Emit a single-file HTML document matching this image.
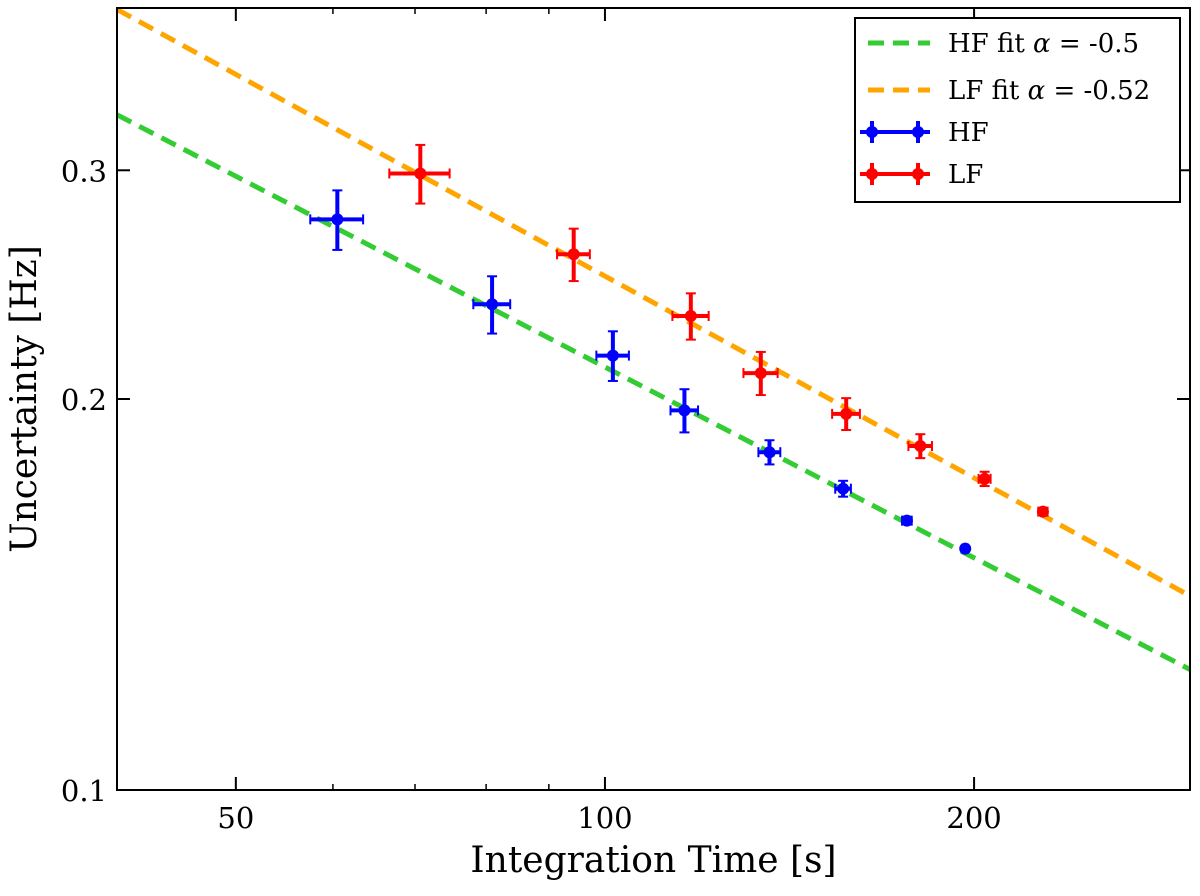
<!DOCTYPE html>
<html><head><meta charset="utf-8"><style>
body{margin:0;background:#fff;}
svg text{font-family:"DejaVu Serif","Liberation Serif",serif;fill:#000;}
</style></head><body>
<svg id="chart" width="1200" height="891" xmlns="http://www.w3.org/2000/svg"></svg>
<script>
const hfTime=[60.5,80.9,101.5,116.1,136.2,156.4,176.3,196.7];
const hfUnc=[0.275,0.2366,0.216,0.196,0.182,0.1706,0.1612,0.1534];
const hfTErr=[3,2.8,3.1,3,2.8,2.3,1.6,1];
const hfUErr=[0.0145,0.012,0.0095,0.0075,0.0039,0.0024,0.0011,0.0005];
const lfTime=[70.7,94.3,117.5,134,157.3,180.8,204,227.6];
const lfUnc=[0.2983,0.2585,0.2317,0.2094,0.1948,0.184,0.1736,0.1638];
const lfTErr=[4,2.9,4,4.3,4.1,4,2.3,2];
const lfUErr=[0.0155,0.012,0.0095,0.008,0.0055,0.0039,0.0022,0.0009];
const hfFit={u40:0.331,alpha:0.488};
const lfFit={u40:0.399,alpha:0.516};
const xTicks=[50,100,200];
const xMinor=[40,60,70,80,90,300];
const yTicks=[0.1,0.2,0.3];
const yMinor=[0.4];

const L=117,R=1190,T=8,B=790;
const xmin=40,xmax=300,ymin=0.1,ymax=0.4;
const X=t=>L+(Math.log10(t/xmin)/Math.log10(xmax/xmin))*(R-L);
const Y=u=>B-(Math.log10(u/ymin)/Math.log10(ymax/ymin))*(B-T);
const svg=document.getElementById('chart');
const NS='http://www.w3.org/2000/svg';
function mk(tag,attrs,parent){const e=document.createElementNS(NS,tag);for(const k in attrs)e.setAttribute(k,attrs[k]);(parent||svg).appendChild(e);return e;}

function fitLine(f,color,name){
  const g=mk('g',{});
  
  
  const u=t=>f.u40*Math.pow(t/40,-f.alpha);
  mk('line',{x1:X(xmin),y1:Y(u(xmin)),x2:X(xmax),y2:Y(u(xmax)),stroke:color,'stroke-width':5,'stroke-dasharray':'16,9'},g);
}
fitLine(hfFit,'#33cc33','hf-fit-line');
fitLine(lfFit,'#ffa500','lf-fit-line');

function series(ts,us,te,ue,color,name){
  const g=mk('g',{});
  
  
  for(let i=0;i<ts.length;i++){
    const cx=X(ts[i]),cy=Y(us[i]);
    const x1=X(ts[i]-te[i]),x2=X(ts[i]+te[i]),y1=Y(us[i]+ue[i]),y2=Y(us[i]-ue[i]);
    mk('line',{x1:x1,y1:cy,x2:x2,y2:cy,stroke:color,'stroke-width':4},g);
    mk('line',{x1:cx,y1:y1,x2:cx,y2:y2,stroke:color,'stroke-width':4},g);
    mk('line',{x1:x1,y1:cy-5,x2:x1,y2:cy+5,stroke:color,'stroke-width':2},g);
    mk('line',{x1:x2,y1:cy-5,x2:x2,y2:cy+5,stroke:color,'stroke-width':2},g);
    mk('line',{x1:cx-5,y1:y1,x2:cx+5,y2:y1,stroke:color,'stroke-width':2},g);
    mk('line',{x1:cx-5,y1:y2,x2:cx+5,y2:y2,stroke:color,'stroke-width':2},g);
    const p=mk('circle',{cx:cx,cy:cy,r:6,fill:color},g);
    
    
  }
}
series(hfTime,hfUnc,hfTErr,hfUErr,'#0000ff','hf-series');
series(lfTime,lfUnc,lfTErr,lfUErr,'#ff0000','lf-series');

const fr=mk('rect',{x:L,y:T,width:R-L,height:B-T,fill:'none',stroke:'#000','stroke-width':2});


xTicks.forEach(t=>{
  mk('line',{x1:X(t),y1:B,x2:X(t),y2:B-13,stroke:'#000','stroke-width':2});
  mk('line',{x1:X(t),y1:T,x2:X(t),y2:T+13,stroke:'#000','stroke-width':2});
  const tx=mk('text',{x:X(t),y:B+38,'text-anchor':'middle','font-size':29});
  tx.textContent=t;
  
  
});
xMinor.forEach(t=>{
  mk('line',{x1:X(t),y1:B,x2:X(t),y2:B-6,stroke:'#000','stroke-width':1.5});
  mk('line',{x1:X(t),y1:T,x2:X(t),y2:T+6,stroke:'#000','stroke-width':1.5});
});
yTicks.forEach(u=>{
  mk('line',{x1:L,y1:Y(u),x2:L+13,y2:Y(u),stroke:'#000','stroke-width':2});
  mk('line',{x1:R,y1:Y(u),x2:R-13,y2:Y(u),stroke:'#000','stroke-width':2});
  const tx=mk('text',{x:L-10,y:Y(u)+11,'text-anchor':'end','font-size':29});
  tx.textContent=u.toFixed(1);
  
  
});
yMinor.forEach(u=>{
  mk('line',{x1:L,y1:Y(u),x2:L+6,y2:Y(u),stroke:'#000','stroke-width':1.5});
});
const xt=mk('text',{x:(L+R)/2,y:872,'text-anchor':'middle','font-size':36});
xt.textContent='Integration Time [s]';


const yt=mk('text',{x:0,y:0,'text-anchor':'middle','font-size':36,transform:'translate(36,399) rotate(-90)'});
yt.textContent='Uncertainty [Hz]';



const lg=mk('g',{});


mk('rect',{x:855,y:18,width:325,height:184,fill:'#fff',stroke:'#000','stroke-width':2},lg);
function entry(y,color,label,dashed,name){
  const g=mk('g',{},lg);
  
  
  if(dashed){mk('line',{x1:868,y1:y,x2:930,y2:y,stroke:color,'stroke-width':5,'stroke-dasharray':'16,9'},g);}
  else{
    [872,918].forEach(cx=>{
      mk('line',{x1:cx-12,y1:y,x2:cx+12,y2:y,stroke:color,'stroke-width':4},g);
      mk('line',{x1:cx,y1:y-11,x2:cx,y2:y+11,stroke:color,'stroke-width':4},g);
      mk('circle',{cx:cx,cy:y,r:6,fill:color},g);
    });
    mk('line',{x1:872,y1:y,x2:918,y2:y,stroke:color,'stroke-width':4},g);
  }
  const t=mk('text',{x:948,y:y+9,'font-size':26},g);
  t.innerHTML=label;
}
entry(43,'#33cc33','HF fit <tspan font-style="italic">α</tspan> = -0.5',true,'legend-hf-fit');
entry(90,'#ffa500','LF fit <tspan font-style="italic">α</tspan> = -0.52',true,'legend-lf-fit');
entry(132,'#0000ff','HF',false,'legend-hf');
entry(174,'#ff0000','LF',false,'legend-lf');
</script>
</body></html>
